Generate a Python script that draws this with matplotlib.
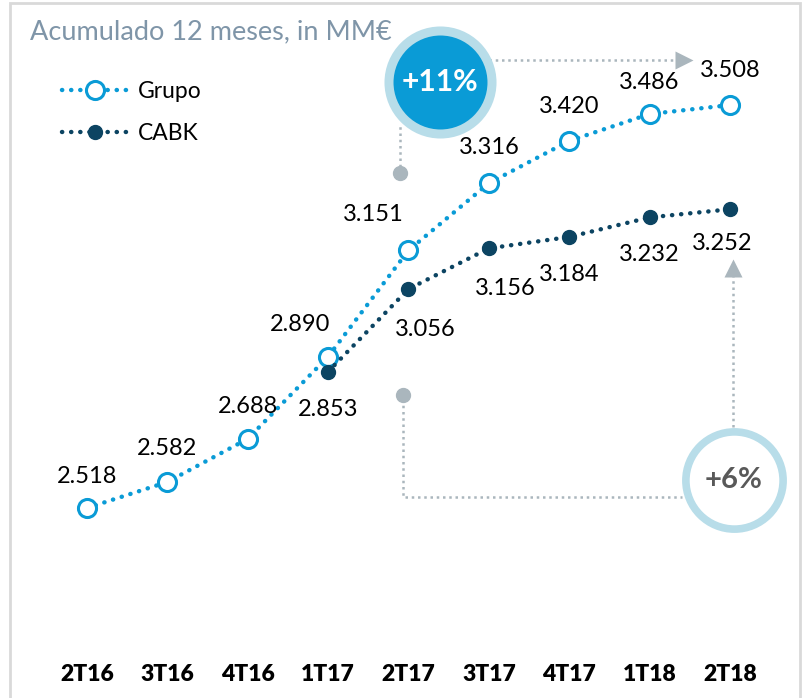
import matplotlib.pyplot as plt
from matplotlib.patches import Rectangle

quarters = ["2T16", "3T16", "4T16", "1T17", "2T17", "3T17", "4T17", "1T18", "2T18"]
grupo = [2.518, 2.582, 2.688, 2.890, 3.151, 3.316, 3.420, 3.486, 3.508]
cabk = [None, None, None, 2.853, 3.056, 3.156, 3.184, 3.232, 3.252]

BLUE = "#0a9bd6"
NAVY = "#0c4462"
GREY = "#aab6bd"
RING = "#b8dde9"

plt.rcParams["font.family"] = ["Lato", "DejaVu Sans"]

fig = plt.figure(figsize=(8.05, 6.98), dpi=100)
ax = fig.add_axes([0, 0, 1, 1])
ax.set_xlim(-1.082, 8.933)
ax.set_ylim(2.0513, 3.7661)
ax.axis("off")

# frame around the panel
ax.add_patch(Rectangle((0.012, -0.01), 0.982, 1.006, transform=ax.transAxes,
                       fill=False, edgecolor="#d9d9d9", lw=2, clip_on=False))

dots = (0, (0.05, 2.0))
xg = list(range(len(quarters)))
ax.plot(xg, grupo, color=BLUE, lw=3.2, ls=dots, dash_capstyle="round",
        marker="o", ms=13, mfc="white", mec=BLUE, mew=2.2, label="Grupo", zorder=3)
xc = [i for i, v in enumerate(cabk) if v is not None]
yc = [v for v in cabk if v is not None]
ax.plot(xc, yc, color=NAVY, lw=3.2, ls=dots, dash_capstyle="round",
        marker="o", ms=10, mfc=NAVY, mec=NAVY, label="CABK", zorder=3)

# value labels (offsets in points)
g_off = [(0, 23), (0, 24), (0, 23), (-20, 23), (-25, 26), (0, 26), (0, 25), (0, 23), (0, 25)]
c_off = [None, None, None, (0, -27), (12, -29), (12, -29), (0, -27), (0, -27), (-6, -25)]
for i, v in enumerate(grupo):
    ax.annotate(f"{v:.3f}", (i, v), xytext=g_off[i], textcoords="offset points",
                ha="center", va="center", fontsize=17, color="black")
for i, v in enumerate(cabk):
    if v is None:
        continue
    ax.annotate(f"{v:.3f}", (i, v), xytext=c_off[i], textcoords="offset points",
                ha="center", va="center", fontsize=17, color="black")

for i, q in enumerate(quarters):
    ax.text(i, 2.1095, q, ha="center", va="center", fontsize=16.5, fontweight="heavy",
            family=["Liberation Sans Narrow", "Lato"])

ax.text(-0.71, 3.6875, "Acumulado 12 meses, in MM€", ha="left", va="center",
        fontsize=19.5, color="#7f95a8")

leg = ax.legend(loc="upper left", bbox_to_anchor=(0.052, 0.914), frameon=False,
                fontsize=16.5, handlelength=2.85, labelspacing=0.95, handletextpad=0.45)

# +11% callout
ax.plot([3.894, 3.894], [3.341, 3.46], color=GREY, lw=1.8, ls=(0, (1, 1.5)), zorder=1)
ax.plot([3.894], [3.341], "o", color=GREY, ms=10, zorder=2)
ax.plot([5.0, 7.36], [3.619, 3.619], color=GREY, lw=1.8, ls=(0, (1, 1.5)), zorder=1)
ax.plot([7.43], [3.619], ">", color=GREY, ms=13, mec="none")
ax.scatter([4.392], [3.564], s=5500, c=BLUE, edgecolors=RING, linewidths=6.5, zorder=4)
ax.text(4.392, 3.564, "+11%", ha="center", va="center", fontsize=21.5,
        fontweight="bold", color="white", zorder=5)

# +6% callout
ax.plot([3.93], [2.7957], "o", color=GREY, ms=10, zorder=2)
ax.plot([3.93, 3.93, 7.4], [2.785, 2.545, 2.545], color=GREY, lw=1.8,
        ls=(0, (1, 1.5)), zorder=1)
ax.plot([8.037, 8.037], [2.717, 3.095], color=GREY, lw=1.8, ls=(0, (1, 1.5)), zorder=1)
ax.plot([8.037], [3.108], "^", color=GREY, ms=13, mec="none")
ax.scatter([8.05], [2.5868], s=4900, c="white", edgecolors=RING, linewidths=5.5, zorder=4)
ax.text(8.05, 2.5868, "+6%", ha="center", va="center", fontsize=21,
        fontweight="bold", color="#595959", zorder=5)

fig.savefig("out.png", dpi=100)
